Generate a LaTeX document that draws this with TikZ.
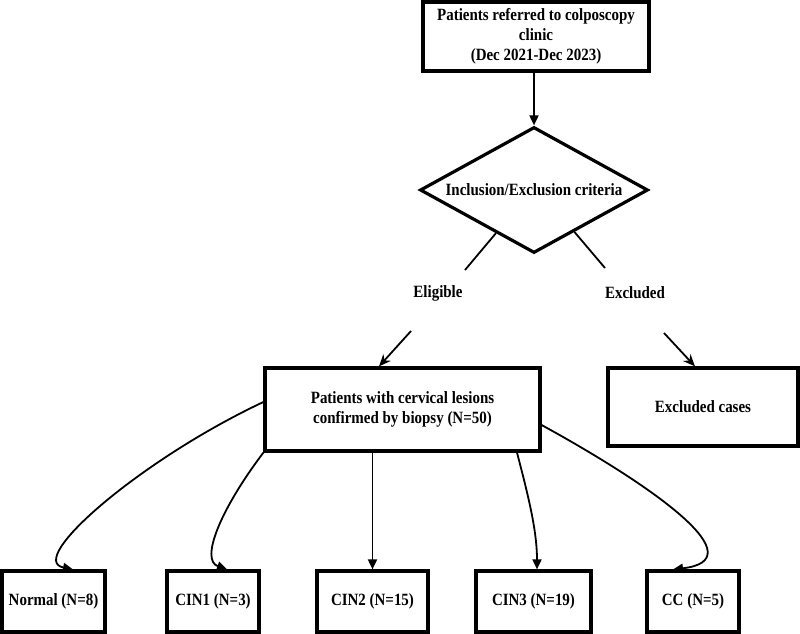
\documentclass[tikz,border=0pt]{standalone}
\usepackage{fontspec}
\setmainfont{Liberation Serif}[FakeStretch=0.87]
\usetikzlibrary{shapes.geometric,arrows.meta,calc}
\begin{document}
\begin{tikzpicture}[x=1pt,y=-1pt,
  every node/.style={font=\fontsize{17.2}{19.8}\selectfont\bfseries},
  boxnode/.style={draw, line width=3.2pt, rectangle, inner sep=0pt, align=center},
  lab/.style={inner sep=0pt},
  conn/.style={line width=1.8pt},
  arr/.style={conn, -{Triangle[length=10pt,width=9pt]}},
  sarr/.style={conn, -{Stealth[length=12pt,width=10pt]}}
]
\useasboundingbox (0,0) rectangle (800,634);
% nodes
\node[boxnode, minimum width=226pt, minimum height=69pt] (top) at (536,36.5)
  {Patients referred to colposcopy\\clinic\\(Dec 2021-Dec 2023)};
\node[draw, diamond, line width=3.2pt, inner sep=0pt, aspect=1.8,
  minimum width=228pt, minimum height=126pt] (dia) at (534,190)
  {Inclusion/Exclusion criteria};
\node[lab] (elig) at (438,293) {Eligible};
\node[lab] (excl) at (635,293) {Excluded};
\node[boxnode, minimum width=275pt, minimum height=83pt] (mid) at (402.5,409.5)
  {Patients with cervical lesions\\confirmed by biopsy (N=50)};
\node[boxnode, minimum width=190pt, minimum height=78pt] (exc) at (703,407)
  {Excluded cases};
\node[boxnode, minimum width=103pt, minimum height=61pt] (normal) at (53.5,601.5) {Normal (N=8)};
\node[boxnode, minimum width=92pt, minimum height=61pt] (cin1) at (213,601.5) {CIN1 (N=3)};
\node[boxnode, minimum width=111pt, minimum height=61pt] (cin2) at (372.5,601.5) {CIN2 (N=15)};
\node[boxnode, minimum width=115pt, minimum height=61pt] (cin3) at (533.5,601.5) {CIN3 (N=19)};
\node[boxnode, minimum width=92pt, minimum height=61pt] (cc) at (693,601.5) {CC (N=5)};
% helper coordinates
\coordinate (dl) at ($(dia.west)!0.67!(dia.south)$);
\coordinate (dr) at ($(dia.east)!0.65!(dia.south)$);
\coordinate (dlend) at (465,270);
\coordinate (drend) at (605,268);
\coordinate (ea) at (411,331);
\coordinate (xa) at (664,333);
% connectors
\draw[arr] (top.south -| dia.north) -- (dia.north);
\draw[conn] (dl) -- (dlend);
\draw[conn] (dr) -- (drend);
\draw[sarr] (ea) -- (mid.north -| 379,0);
\draw[sarr] (xa) -- (exc.north -| 695,0);
\draw[arr] (mid.west |- 0,402) .. controls (140,460) and (25,560) .. (normal.north -| 73,0);
\draw[arr] (mid.south west) .. controls (220,510) and (200,560) .. (cin1.north -| 227,0);
\draw[arr] (mid.south -| cin2.north) -- (cin2.north);
\draw[arr] (mid.south -| 517,0) .. controls (528,495) and (537,530) .. (cin3.north -| 537,0);
\draw[arr] (mid.east |- 0,425) .. controls (660,490) and (755,560) .. (cc.north -| 673,0);
\end{tikzpicture}
\end{document}
